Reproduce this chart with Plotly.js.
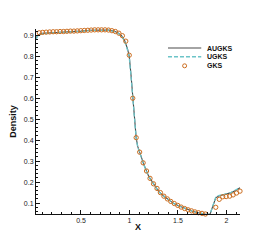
<!DOCTYPE html>
<html>
<head>
<meta charset="utf-8">
<script src="https://cdn.plot.ly/plotly-3.0.1.min.js"></script>
<style>html,body{margin:0;padding:0;background:#fff;}#chart{width:273px;height:242px;}</style>
</head>
<body>
<div id="chart"></div>
<script>
var gksX = [0.034,0.070,0.105,0.141,0.177,0.213,0.248,0.284,0.320,0.355,0.391,0.427,0.462,0.498,0.534,0.570,0.605,0.641,0.677,0.712,0.748,0.784,0.819,0.855,0.891,0.927,0.962,0.998,1.034,1.069,1.105,1.141,1.176,1.212,1.248,1.284,1.319,1.355,1.391,1.426,1.462,1.498,1.533,1.569,1.605,1.640,1.676,1.712,1.748,1.783,1.819,1.855,1.890,1.926,1.962,1.997,2.033,2.069,2.104,2.140];
var gksY = [0.900,0.912,0.914,0.915,0.916,0.917,0.917,0.918,0.918,0.919,0.920,0.920,0.921,0.922,0.923,0.924,0.925,0.926,0.926,0.926,0.926,0.925,0.922,0.918,0.910,0.898,0.872,0.805,0.600,0.412,0.343,0.292,0.253,0.218,0.192,0.170,0.150,0.133,0.120,0.108,0.098,0.089,0.081,0.074,0.068,0.063,0.058,0.054,0.051,0.048,0.046,0.047,0.080,0.118,0.130,0.131,0.133,0.139,0.148,0.157];

var augksX = [0.036,0.05,0.07,0.10,0.20,0.30,0.40,0.50,0.60,0.70,0.78,0.84,0.88,0.92,0.95,0.98,0.998,1.016,1.034,1.05,1.069,1.085,1.105,1.15,1.20,1.25,1.30,1.35,1.40,1.45,1.50,1.55,1.60,1.65,1.70,1.75,1.80,1.83,1.86,1.89,1.92,1.96,2.00,2.05,2.10,2.14];
var augksY = [0.885,0.897,0.905,0.909,0.912,0.914,0.917,0.920,0.924,0.926,0.925,0.920,0.912,0.897,0.875,0.835,0.800,0.710,0.600,0.500,0.412,0.370,0.343,0.282,0.226,0.191,0.156,0.135,0.117,0.100,0.088,0.078,0.069,0.061,0.055,0.050,0.046,0.046,0.082,0.125,0.134,0.138,0.143,0.150,0.161,0.173];

var ugksX = [0.036,0.05,0.07,0.10,0.20,0.30,0.40,0.50,0.60,0.70,0.78,0.84,0.88,0.92,0.95,0.98,0.998,1.016,1.034,1.05,1.069,1.085,1.105,1.15,1.20,1.25,1.30,1.35,1.40,1.45,1.50,1.55,1.60,1.65,1.70,1.75,1.80,1.83,1.86,1.89,1.92,1.96,2.00,2.05,2.10,2.14];
var ugksY = [0.880,0.893,0.902,0.907,0.911,0.913,0.916,0.919,0.923,0.925,0.924,0.919,0.911,0.895,0.872,0.830,0.795,0.705,0.598,0.498,0.410,0.368,0.341,0.280,0.225,0.190,0.155,0.134,0.116,0.100,0.088,0.078,0.069,0.061,0.055,0.050,0.046,0.046,0.086,0.128,0.136,0.139,0.144,0.151,0.162,0.174];

var names = ['AUGKS','UGKS','GKS'];
var colAug = '#4a4a4a', colU = '#6cc4c8', colG = '#cc6d1f';

var traces = [
  {x: augksX, y: augksY, mode: 'lines', name: names[0], line: {color: colAug, width: 1.1}, showlegend: false},
  {x: ugksX, y: ugksY, mode: 'lines', name: names[1], line: {color: colU, width: 1.3, dash: '4px,2px'}, showlegend: false},
  {x: gksX, y: gksY, mode: 'markers', name: names[2], marker: {symbol: 'circle-open', size: 4.3, color: colG, line: {width: 1, color: colG}}, showlegend: false, cliponaxis: false}
];

var axFont = {family: 'Liberation Sans, Arial, sans-serif', size: 7, color: '#222'};
var titleFont = {family: 'Liberation Sans, Arial, sans-serif', size: 9, color: '#111', weight: 'bold'};

var legX0 = 0.647, legX1 = 0.81, legTxt = 0.83;
var legY = [0.897, 0.850, 0.801];
var shapes = [
  {type:'line', xref:'paper', yref:'paper', x0:legX0, x1:legX1, y0:legY[0], y1:legY[0], line:{color:colAug, width:1.1}},
  {type:'line', xref:'paper', yref:'paper', x0:legX0, x1:legX1, y0:legY[1], y1:legY[1], line:{color:colU, width:1.3, dash:'4px,2px'}},
  {type:'circle', xref:'paper', yref:'paper', xsizemode:'pixel', ysizemode:'pixel', xanchor:(legX0+legX1)/2, yanchor:legY[2], x0:-2, x1:2, y0:-2, y1:2, line:{color:colG, width:1}}
];
var annotations = names.map(function(n, i){
  return {xref:'paper', yref:'paper', x:legTxt, y:legY[i], text:n, showarrow:false, xanchor:'left', yanchor:'middle',
          font:{family:'Liberation Sans, Arial, sans-serif', size:7, color:'#111', weight:'bold'}};
});

var layout = {
  width: 273, height: 242,
  margin: {l: 36, r: 33, t: 29, b: 28},
  paper_bgcolor: '#fff', plot_bgcolor: '#fff',
  showlegend: false,
  xaxis: {
    range: [0.036, 2.14], dtick: 0.5, tick0: 0, ticks: 'inside', ticklen: 4, tickwidth: 1, tickcolor: '#111',
    minor: {dtick: 0.1, ticks: 'inside', ticklen: 2, tickcolor: '#111', showgrid: false},
    showline: true, linecolor: '#111', linewidth: 1, mirror: false, showgrid: false, zeroline: false,
    tickfont: axFont, title: {text: 'X', font: titleFont, standoff: 0}
  },
  yaxis: {
    range: [0.048, 0.93], dtick: 0.1, tick0: 0, ticks: 'inside', ticklen: 4, tickwidth: 1, tickcolor: '#111',
    minor: {dtick: 0.02, ticks: 'inside', ticklen: 2, tickcolor: '#111', showgrid: false},
    showline: true, linecolor: '#111', linewidth: 1, mirror: false, showgrid: false, zeroline: false,
    tickfont: axFont, title: {text: 'Density', font: titleFont, standoff: 5}
  },
  shapes: shapes,
  annotations: annotations
};

Plotly.newPlot('chart', traces, layout, {displayModeBar: false, staticPlot: true});
</script>
</body>
</html>
